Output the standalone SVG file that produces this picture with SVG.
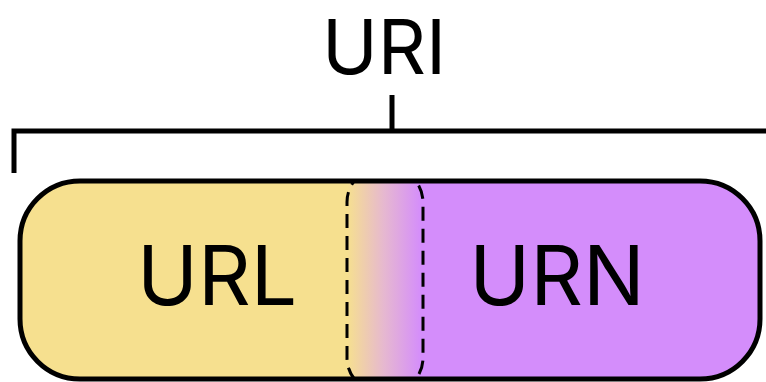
<svg xmlns="http://www.w3.org/2000/svg" width="766" height="382" viewBox="0 0 766 382">
<defs>
<linearGradient id="mix" x1="0" x2="1" y1="0" y2="0">
<stop offset="0" stop-color="#F6E08F"/>
<stop offset="0.5" stop-color="#E6B8D0"/>
<stop offset="1" stop-color="#D48DFB"/>
</linearGradient>
<clipPath id="clipOuter"><rect x="20" y="181" width="740" height="198" rx="60"/></clipPath>
</defs>
<style>
.t{font-family:Inter,"Liberation Sans",sans-serif;fill:#000;text-anchor:middle}
.br{fill:none;stroke:#000;stroke-width:5}
</style>
<rect width="766" height="382" fill="#fff"/>
<g id="uri">
<text class="t" x="384" y="74" font-size="75">URI</text>
</g>
<g id="connectors">
<path class="br" d="M392 95 V131"/>
<path class="br" d="M14 173 V131 H766"/>
</g>
<g id="box">
<g clip-path="url(#clipOuter)">
<rect x="20" y="181" width="330" height="198" fill="#F6E08F"/>
<rect x="418" y="181" width="342" height="198" fill="#D48DFB"/>
<rect x="347" y="181" width="74" height="198" fill="url(#mix)"/>
<rect x="347" y="168" width="76" height="224" rx="34" fill="none" stroke="#000" stroke-width="3" stroke-dasharray="14 8"/>
</g>
<rect x="20" y="181" width="740" height="198" rx="60" fill="none" stroke="#000" stroke-width="5"/>
</g>
<g id="url">
<text class="t" x="217" y="305" font-size="82">URL</text>
</g>
<g id="urn">
<text class="t" x="557" y="305" font-size="82">URN</text>
</g>
</svg>
